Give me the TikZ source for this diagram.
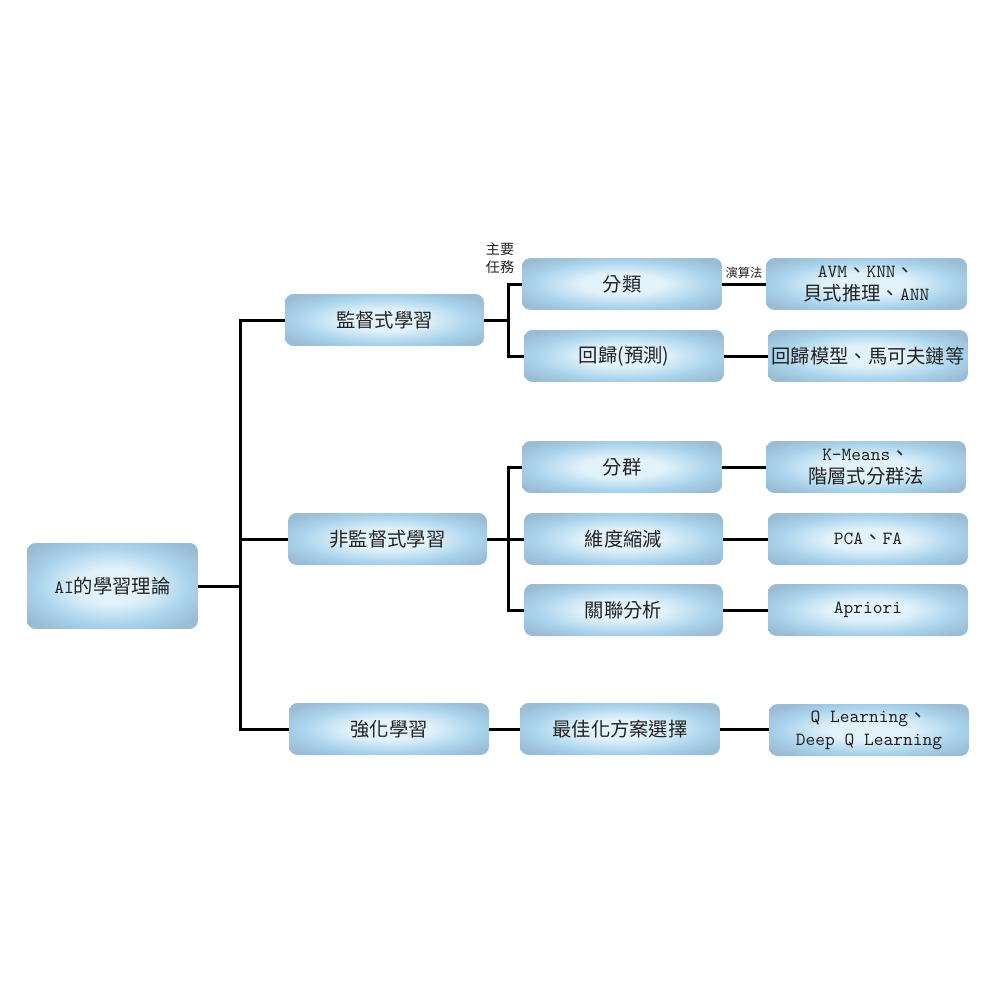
\documentclass[tikz,border=0pt]{standalone}
\usepackage{fontspec}
\setmainfont{Noto Sans CJK TC}
\setmonofont[Scale=0.96]{Latin Modern Mono}
\newcommand\lat{\ttfamily}
\definecolor{edgeblue}{HTML}{9BBCD5}
\definecolor{midblue}{HTML}{AAD4EC}
\definecolor{centerblue}{HTML}{E2F2FB}
\definecolor{txt}{HTML}{222222}
\pgfdeclareradialshading{boxshade}{\pgfpointorigin}{color(0bp)=(centerblue); color(10bp)=(centerblue); color(22bp)=(midblue); color(31bp)=(edgeblue); color(50bp)=(edgeblue)}
\tikzset{
  box/.style={rectangle, rounded corners=0.17cm, shading=boxshade, minimum width=4cm, minimum height=1.04cm, inner sep=0pt, align=center, text=txt, font=\fontsize{11}{13}\selectfont},
  rootbox/.style={box, minimum width=3.42cm, minimum height=1.72cm},
  conn/.style={line width=0.06cm, black},
  small/.style={font=\fontsize{8}{10}\selectfont, text=txt, inner sep=0pt, align=center}
}
\begin{document}
\begin{tikzpicture}[x=0.02cm,y=-0.02cm]
\useasboundingbox (0,0) rectangle (1000,1000);
\fill[white] (0,0) rectangle (1000,1000);
% root
\node[rootbox] (root) at (112.5,586) {{\lat AI}的學習理論};
% level 2
\node[box, minimum width=3.98cm] (sup) at (384.5,320) {監督式學習};
\node[box, minimum width=3.98cm] (uns) at (387.5,539) {非監督式學習};
\node[box] (rl) at (389,729) {強化學習};
% level 3
\node[box] (cls) at (622,284) {分類};
\node[box] (reg) at (624,356) {回歸(預測)};
\node[box] (clu) at (622,467) {分群};
\node[box, minimum width=3.98cm] (dim) at (623.5,539) {維度縮減};
\node[box, minimum width=3.98cm] (asc) at (623.5,610) {關聯分析};
\node[box] (opt) at (620,729) {最佳化方案選擇};
% level 4
\node[box, minimum width=4.02cm] (alg1) at (866.5,284) {{\lat AVM}、{\lat KNN}、\\貝式推理、{\lat ANN}};
\node[box] (alg2) at (868,356) {回歸模型、馬可夫鏈等};
\node[box] (alg3) at (866,467) {{\lat K-Means}、\\階層式分群法};
\node[box] (alg4) at (868,539) {{\lat PCA}、{\lat FA}};
\node[box] (alg5) at (868,610) {{\lat Apriori}};
\node[box] (alg6) at (869,730) {{\lat Q Learning}、\\{\lat Deep Q Learning}};
% labels
\node[small] (lbl1) at (500,258) {主要\\任務};
\node[small, font=\fontsize{7}{8}\selectfont] (lbl2) at (744,273) {演算法};
% connectors
\coordinate (j1) at (240,586);
\draw[conn] (root.east) -- (j1);
\draw[conn] (sup.west) -- (sup.west -| j1) -- (rl.west -| j1) -- (rl.west);
\draw[conn] (uns.west -| j1) -- (uns.west);
\coordinate (j2) at (508,320);
\draw[conn] (sup.east) -- (j2);
\draw[conn] (cls.west) -- (cls.west -| j2) -- (reg.west -| j2) -- (reg.west);
\coordinate (j3) at (508,539);
\draw[conn] (uns.east) -- (dim.west);
\draw[conn] (clu.west) -- (clu.west -| j3) -- (asc.west -| j3) -- (asc.west);
\draw[conn] (rl.east) -- (opt.west);
\draw[conn] (cls.east) -- (alg1.west);
\draw[conn] (reg.east) -- (alg2.west);
\draw[conn] (clu.east) -- (alg3.west);
\draw[conn] (dim.east) -- (alg4.west);
\draw[conn] (asc.east) -- (alg5.west);
\draw[conn] (opt.east) -- (alg6.west |- opt.east);
\end{tikzpicture}
\end{document}
